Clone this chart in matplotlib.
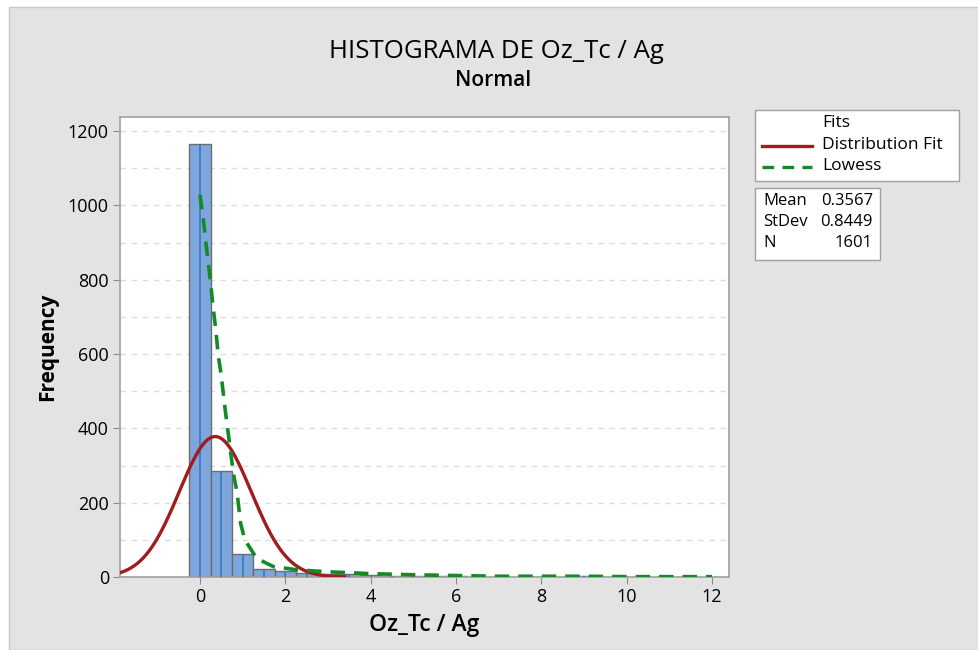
import numpy as np
import matplotlib.pyplot as plt
from matplotlib.patches import Rectangle
from matplotlib.lines import Line2D

# histogram bins (centre of each 0.5-wide bin) and counts
bin_centers = [0.0, 0.5, 1.0, 1.5, 2.0, 2.5, 3.0, 3.5, 4.0, 4.5, 5.0, 5.5, 6.0, 9.0]
counts = [1166, 285, 62, 22, 17, 12, 8, 7, 6, 4, 4, 3, 3, 2]
bin_width = 0.5

# summary statistics
mean = 0.3567
stdev = 0.8449
n_obs = 1601

# lowess smooth
lowess_x = [0, 0.08, 0.13, 0.19, 0.25, 0.30, 0.37, 0.43, 0.49, 0.59, 0.66, 0.78,
            0.87, 0.95, 1.05, 1.33, 1.72, 2.3, 3.0, 4.0, 5.0, 6.0, 7.0, 8.0,
            9.0, 10.0, 11.0, 12.0]
lowess_y = [1028, 961, 907, 848, 791, 732, 665, 593, 549, 450, 388, 280,
            226, 145, 100, 50, 28, 19, 14, 9, 6, 4, 2, 2, 2, 1, 1, 1]

x_ticks = [0, 2, 4, 6, 8, 10, 12]
y_ticks = [0, 200, 400, 600, 800, 1000, 1200]

BG = '#e3e3e3'
RED = '#a11d1d'
GREEN = '#128a26'
FONT = ['Open Sans', 'DejaVu Sans']

plt.rcParams['font.family'] = FONT

fig = plt.figure(figsize=(9.79, 6.5), dpi=100)
fig.patch.set_facecolor('white')
# grey frame of the graph window
fig.patches.append(Rectangle((9 / 979, 0), 1, 1 - 7 / 650, transform=fig.transFigure,
                             facecolor=BG, edgecolor='#c8c8c8', lw=1, zorder=-10))

ax = fig.add_axes([120 / 979, 1 - 577 / 650, (729 - 120) / 979, (577 - 117) / 650])
ax.set_zorder(1)
ax.set_facecolor('white')

ax.bar(bin_centers, counts, width=bin_width, color='#7da7dc', edgecolor='#6d6d6d',
       linewidth=1, zorder=2)
ax.vlines(bin_centers, 0, counts, color='#3b76c0', lw=1.2, zorder=3)

# fitted normal curve
xs = np.linspace(-2.0, mean + 3.6 * stdev, 300)
pdf = np.exp(-0.5 * ((xs - mean) / stdev) ** 2) / (stdev * np.sqrt(2 * np.pi))
ax.plot(xs, pdf * n_obs * bin_width, color=RED, lw=2.4, zorder=4)

ax.plot(lowess_x, lowess_y, color=GREEN, lw=2.6, ls=(0, (4, 2.5)), zorder=5)

ax.set_xlim(-1.876, 12.40)
ax.set_ylim(0, 1238)
ax.set_xticks(x_ticks)
ax.set_yticks(y_ticks)
ax.set_yticks(np.arange(100, 1201, 200), minor=True)
ax.grid(axis='y', which='both', color='#dcdcdc', ls=(0, (4, 4)), lw=1, zorder=0)
ax.set_axisbelow(True)
ax.tick_params(which='major', direction='out', length=5, color='#8a8a8a',
               labelsize=13, pad=3)
ax.tick_params(which='minor', length=0)
for s in ax.spines.values():
    s.set_color('#a0a0a0')
    s.set_linewidth(1.2)

ax.set_xlabel('Oz_Tc / Ag', fontsize=16.5, fontweight='semibold', labelpad=5)
ax.set_ylabel('Frequency', fontsize=15, fontweight='bold', labelpad=7)

fig.text(496 / 979, 1 - 51 / 650, 'HISTOGRAMA DE Oz_Tc / Ag', ha='center', va='center',
         fontsize=18.5)
fig.text(493 / 979, 1 - 80 / 650, 'Normal', ha='center', va='center', fontsize=15,
         fontweight='semibold')

# legend box
fig.patches.append(Rectangle((755 / 979, 1 - 181 / 650), 204 / 979, 71 / 650,
                             transform=fig.transFigure, facecolor='white',
                             edgecolor='#a0a0a0', lw=1, zorder=5))
legend_rows = [('Fits', 123), ('Distribution Fit', 145), ('Lowess', 166)]
for label, ypix in legend_rows:
    fig.text(822 / 979, 1 - ypix / 650, label, fontsize=12.5, va='center', zorder=6)
fig.lines.append(Line2D([762 / 979, 812 / 979], [1 - 146 / 650] * 2, transform=fig.transFigure,
                        color=RED, lw=2.4, zorder=6))
fig.lines.append(Line2D([762 / 979, 812 / 979], [1 - 167 / 650] * 2, transform=fig.transFigure,
                        color=GREEN, lw=2.4, ls=(0, (3.5, 2.5)), zorder=6))

# statistics box
fig.patches.append(Rectangle((755 / 979, 1 - 260 / 650), 125 / 979, 72 / 650,
                             transform=fig.transFigure, facecolor='white',
                             edgecolor='#a0a0a0', lw=1, zorder=5))
stats = [('Mean', f'{mean:.4f}'), ('StDev', f'{stdev:.4f}'), ('N', f'{n_obs}')]
for i, (name, val) in enumerate(stats):
    yy = 1 - (201 + i * 21) / 650
    fig.text(763 / 979, yy, name, fontsize=12, va='center', zorder=6)
    fig.text(873 / 979, yy, val, fontsize=12, va='center', ha='right', zorder=6)

fig.savefig('out.png', dpi=100, facecolor=fig.get_facecolor())
